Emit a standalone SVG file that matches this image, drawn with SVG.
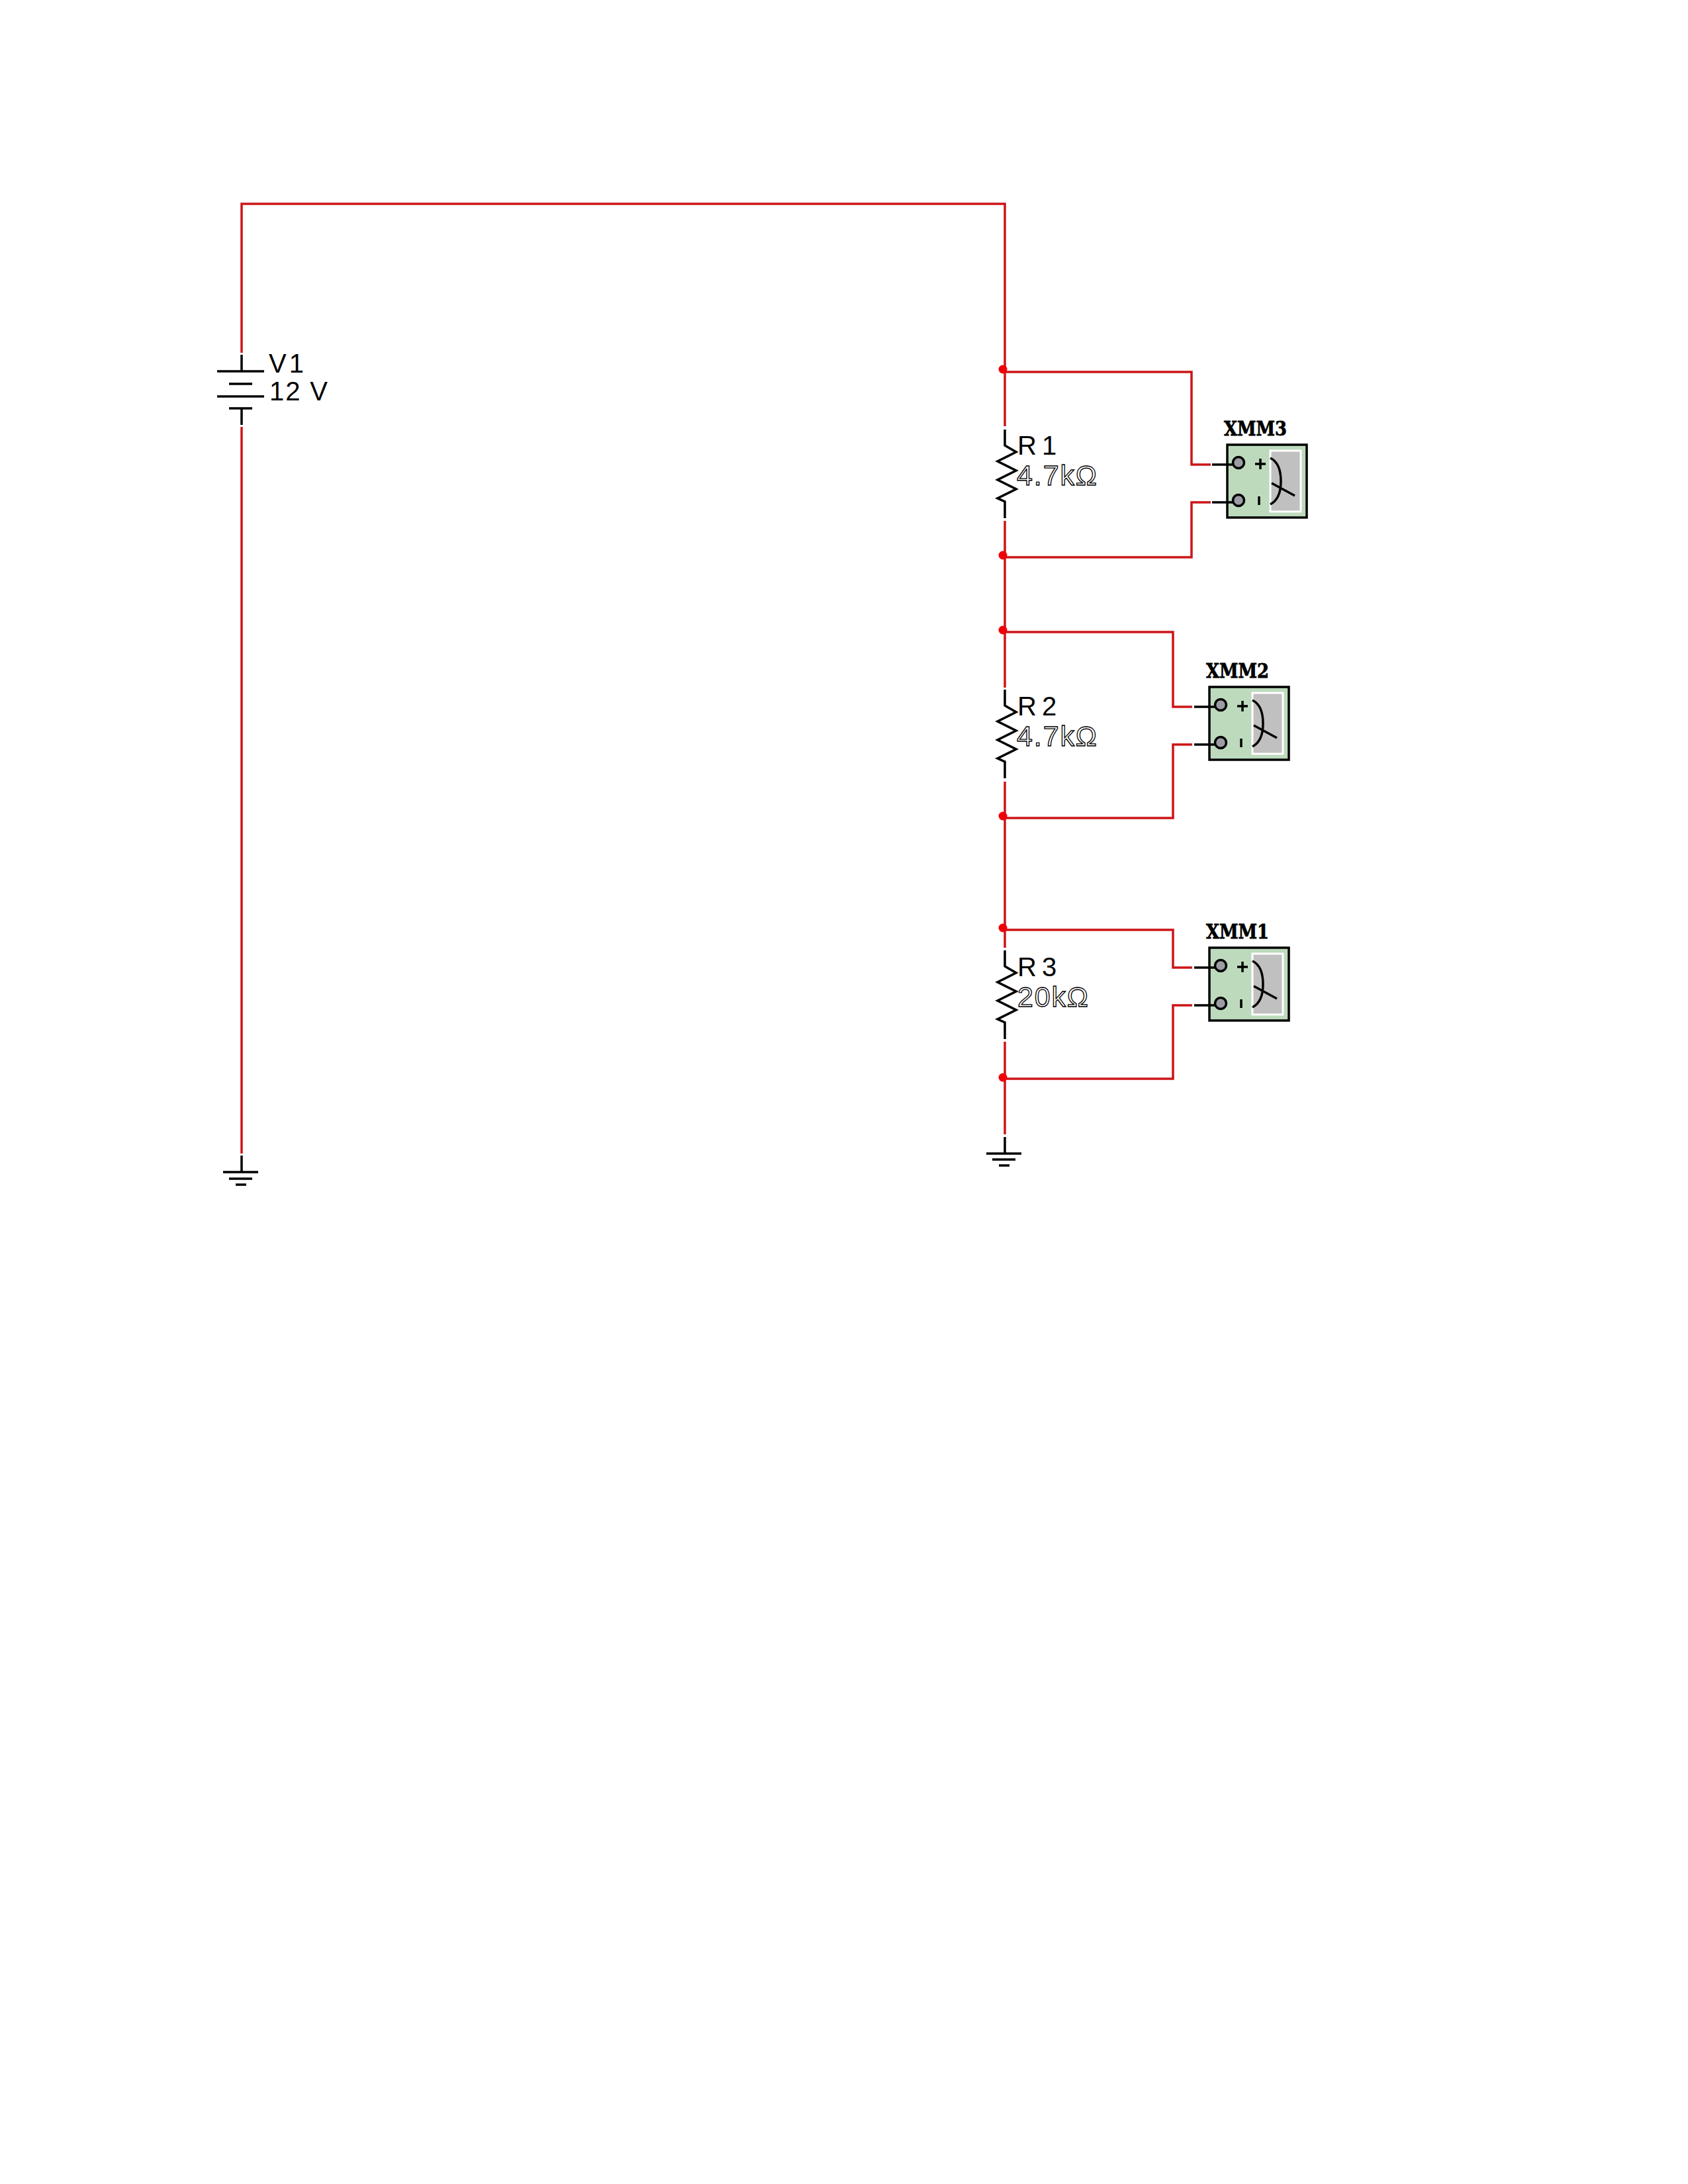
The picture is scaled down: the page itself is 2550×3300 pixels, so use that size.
<svg xmlns="http://www.w3.org/2000/svg" width="2550" height="3300" viewBox="0 0 2550 3300">
<style>
.w{fill:none;stroke:#cc1518;stroke-width:3.5}
.b{fill:none;stroke:#000;stroke-width:3.5}
.d{fill:#f00008}
.t{font-family:"Liberation Sans",Arial,sans-serif;font-size:40px;fill:#000}
.o{font-family:"Liberation Sans",Arial,sans-serif;font-size:43px;fill:#fff;stroke:#000;stroke-width:1.3}
.x{font-family:"DejaVu Serif",serif;font-weight:bold;font-size:29px;fill:#000;stroke:#000;stroke-width:.8}
</style>
<defs>
<g id="meter">
<rect x="1853" y="672" width="120" height="110" fill="#bddabd" stroke="#000" stroke-width="3.5"/>
<rect x="1918" y="681" width="46" height="92" fill="#c0c0c0" stroke="#fff" stroke-width="3"/>
<path class="b" d="M1830 702H1862M1830 759H1862"/>
<circle cx="1870" cy="699" r="8.5" fill="#9c9ca4" stroke="#000" stroke-width="3.5"/>
<circle cx="1870" cy="756" r="8.5" fill="#9c9ca4" stroke="#000" stroke-width="3.5"/>
<path class="b" d="M1895 701H1911M1903 693V709M1901 750V763"/>
<path class="b" d="M1918 692C1930 698 1934 712 1934 727C1934 742 1930 756 1918 762M1920 730L1955 749"/>
</g>
<path id="zig" class="b" d="M1517 649V673L1534 683L1506 697L1534 711L1506 725L1534 739L1506 753L1517 758V783"/>
</defs>
<rect width="2550" height="3300" fill="#fff"/>
<g transform="translate(1,0)">
<g id="connectors">
<path class="w" d="M364 533V308H1517V644"/>
<path class="w" d="M364 645V1743"/>
<path class="w" d="M1517 787V1039M1517 1181V1432M1517 1574V1714"/>
<path class="w" d="M1514 562H1799V702H1828M1514 842H1799V759H1828"/>
<path class="w" d="M1514 955H1771V1068H1800M1514 1236H1771V1125H1800"/>
<path class="w" d="M1514 1405H1771V1462H1800M1514 1630H1771V1519H1800"/>
<circle class="d" cx="1514" cy="558" r="6.5"/>
<circle class="d" cx="1514" cy="839" r="6.5"/>
<circle class="d" cx="1514" cy="952" r="6.5"/>
<circle class="d" cx="1514" cy="1233" r="6.5"/>
<circle class="d" cx="1514" cy="1402" r="6.5"/>
<circle class="d" cx="1514" cy="1628" r="6.5"/>
</g>
<g id="V1">
<path class="b" d="M364 536V561M327 561H398M345 580H380M327 599H398M345 617H380M364 617V642"/>
<text class="t" x="405" y="563" word-spacing="-7">V 1</text>
<text class="t" x="406" y="605" textLength="88">12 V</text>
</g>
<g id="GND1"><path class="b" d="M364 1746V1771M336 1771H389M345 1781H380M355 1790H371"/></g>
<g id="GND2"><path class="b" d="M1517 1718V1743M1489 1743H1542M1498 1752H1533M1508 1761H1524"/></g>
<g id="R1">
<use href="#zig"/>
<text class="t" x="1536" y="687" word-spacing="-3">R 1</text>
<text class="o" x="1535" y="733" textLength="121">4.7kΩ</text>
</g>
<g id="R2">
<use href="#zig" y="393"/>
<text class="t" x="1536" y="1081" word-spacing="-3">R 2</text>
<text class="o" x="1535" y="1127" textLength="121">4.7kΩ</text>
</g>
<g id="R3">
<use href="#zig" y="787"/>
<text class="t" x="1536" y="1475" word-spacing="-3">R 3</text>
<text class="o" x="1536" y="1521" textLength="107">20kΩ</text>
</g>
<g id="XMM3">
<use href="#meter"/>
<text class="x" x="1848" y="658" textLength="95" lengthAdjust="spacingAndGlyphs">XMM3</text>
</g>
<g id="XMM2">
<use href="#meter" x="-27" y="366"/>
<text class="x" x="1821" y="1024" textLength="95" lengthAdjust="spacingAndGlyphs">XMM2</text>
</g>
<g id="XMM1">
<use href="#meter" x="-27" y="760"/>
<text class="x" x="1821" y="1418" textLength="95" lengthAdjust="spacingAndGlyphs">XMM1</text>
</g>
</g>
</svg>
